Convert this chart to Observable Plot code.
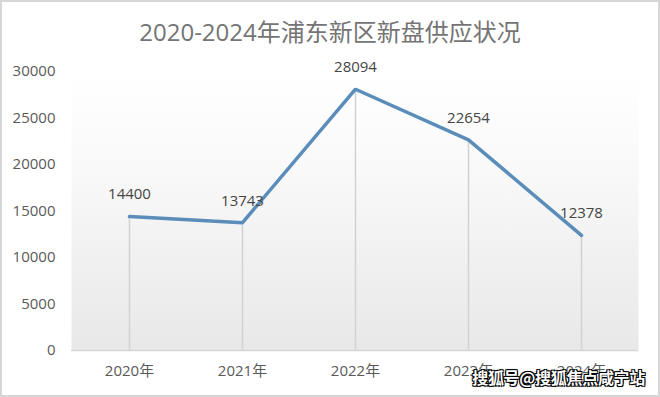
<!DOCTYPE html>
<html>
<head>
<meta charset="utf-8">
<script src="https://cdn.jsdelivr.net/npm/d3@7"></script>
<script src="https://cdn.jsdelivr.net/npm/@observablehq/plot@0.6"></script>
<style>
  html, body { margin: 0; padding: 0; background: #fff; }
  #wrap { position: relative; width: 660px; height: 397px; overflow: hidden; background: #fff; }
  #title { position: absolute; top: 17px; left: 0; width: 660px; text-align: center;
    font-family: "Open Sans", "Noto Sans CJK SC", sans-serif; font-size: 24px; line-height: 30px;
    color: #747474; font-weight: 400; }
  #chart { position: absolute; top: 50px; left: 0; }
  #border { position: absolute; inset: 0; border: 2px solid #d6d6d6; pointer-events: none; }
  #wm { position: absolute; right: 15px; bottom: 8px; font-family: "Noto Sans CJK SC", sans-serif;
    font-weight: 700; font-size: 16px; color: #fff; letter-spacing: -0.3px;
    text-shadow: -1px -1px 0 #000, 1px -1px 0 #000, -1px 1px 0 #000, 1px 1px 0 #000, 0 0 2px #000; }
</style>
</head>
<body>
<div id="wrap">
  <div id="title">2020-2024年浦东新区新盘供应状况</div>
  <div id="chart"></div>
  <div id="wm">搜狐号@搜狐焦点咸宁站</div>
  <div id="border"></div>
</div>
<script>
const years = ["2020年", "2021年", "2022年", "2023年", "2024年"];
const supply = [14400, 13743, 28094, 22654, 12378];
const yTicks = [0, 5000, 10000, 15000, 20000, 25000, 30000];

const data = years.map((year, i) => ({ year, value: supply[i] }));

const chart = Plot.plot({
  width: 660,
  height: 347,
  marginTop: 21,
  marginBottom: 47,
  marginLeft: 71,
  marginRight: 22,
  style: { fontFamily: "'Open Sans', 'Noto Sans CJK SC', sans-serif", fontSize: "15px", color: "#595959", background: "transparent" },
  x: { type: "point", domain: years, padding: 0.5, label: null },
  y: { domain: [0, 30000], label: null },
  marks: [
    Plot.frame({ fill: "url(#bg)", stroke: "none" }),
    Plot.ruleX(data, { x: "year", y1: 0, y2: "value", stroke: "#d2d2d2", strokeWidth: 1.5 }),
    Plot.ruleY([0], { stroke: "#d6d6d6", strokeWidth: 1.5 }),
    Plot.line(data, { x: "year", y: "value", stroke: "#5b8dba", strokeWidth: 3.5, strokeLinejoin: "miter" }),
    Plot.text(data, { x: "year", y: "value", text: d => String(d.value), dy: -22, fill: "#454545", fontSize: 15 }),
    Plot.axisY({ ticks: yTicks, tickSize: 0, tickPadding: 16, tickFormat: d => String(d), fill: "#595959", label: null }),
    Plot.axisX({ tickSize: 0, tickPadding: 15, fill: "#595959", label: null })
  ]
});

const ns = "http://www.w3.org/2000/svg";
const defs = document.createElementNS(ns, "defs");
const grad = document.createElementNS(ns, "linearGradient");
grad.setAttribute("id", "bg");
grad.setAttribute("x1", "0"); grad.setAttribute("y1", "0");
grad.setAttribute("x2", "0"); grad.setAttribute("y2", "1");
[["0%", "#ffffff"], ["35%", "#f9f9f9"], ["100%", "#e8e8e8"]].forEach(([o, c]) => {
  const s = document.createElementNS(ns, "stop");
  s.setAttribute("offset", o); s.setAttribute("stop-color", c);
  grad.appendChild(s);
});
defs.appendChild(grad);
chart.insertBefore(defs, chart.firstChild);
document.getElementById("chart").appendChild(chart);
</script>
</body>
</html>
